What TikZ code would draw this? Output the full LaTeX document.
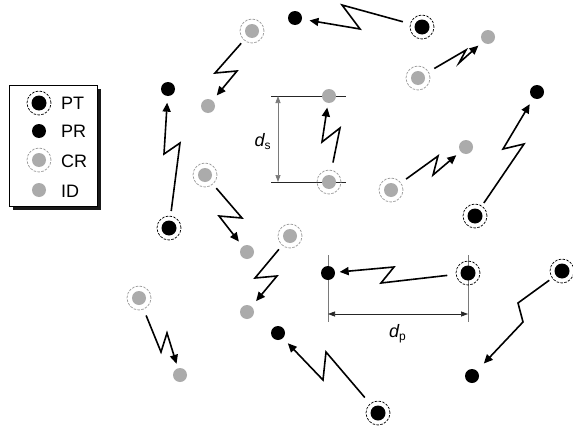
\documentclass[tikz,border=0pt]{standalone}
\usepackage{fontspec}
\setmainfont{Liberation Sans}
\usetikzlibrary{arrows.meta,calc,shadows,backgrounds}
\definecolor{idgray}{HTML}{ABABAB}
\definecolor{crgray}{HTML}{9A9A9A}
\definecolor{dimgray}{HTML}{7A7A7A}
\begin{document}
\begin{tikzpicture}[x=1pt,y=-1pt,
  dotpr/.style={circle, fill=black, minimum size=14pt, inner sep=0pt},
  dotid/.style={circle, fill=idgray, minimum size=14pt, inner sep=0pt},
  dotpt/.style={circle, draw=black, line width=0.7pt, dash pattern=on 2.6pt off 1.3pt, minimum size=24pt, inner sep=0pt,
    path picture={\fill[black] (path picture bounding box.center) circle (7.5pt);}},
  dotcr/.style={circle, draw=crgray, line width=0.7pt, dash pattern=on 2.6pt off 1.3pt, minimum size=24pt, inner sep=0pt,
    path picture={\fill[idgray] (path picture bounding box.center) circle (7pt);}},
  bolt/.style={line width=1.6pt, -{Triangle[length=9pt,width=8pt]}},
  extdark/.style={draw=black!85, line width=0.7pt},
  extgray/.style={draw=dimgray, line width=0.7pt},
  dimtips/.style={{Triangle[length=7pt,width=5pt]}-{Triangle[length=7pt,width=5pt]}},
  legtxt/.style={anchor=base west, inner sep=0pt, font=\fontsize{18}{20}\selectfont},
  lbl/.style={anchor=base west, inner sep=0pt, font=\fontsize{18}{20}\selectfont},
  legbox/.style={draw=black, line width=0.9pt, fill=white, minimum width=88pt, minimum height=121pt, inner sep=0pt,
    drop shadow={shadow xshift=3pt, shadow yshift=-3pt, fill=black!90, opacity=1}}
]
\useasboundingbox (0,0) rectangle (573,431);

% legend
\node[legbox] (legend) at (53.5,146) {};
\node[dotpt] (lpt) at (39,103) {};
\node[dotpr] (lpr) at (39,131) {};
\node[dotcr] (lcr) at (39,160) {};
\node[dotid] (lid) at (39,190) {};
\node[legtxt] (tpt) at (61,109) {PT};
\node[legtxt] (tpr) at (61,137.5) {PR};
\node[legtxt] (tcr) at (61,167) {CR};
\node[legtxt] (tid) at (61,197) {ID};

% nodes
\node[dotpt] (pt1) at (422,27) {};
\node[dotpr] (pr1) at (295,18) {};
\node[dotcr] (cr1) at (252,31) {};
\node[dotid] (id1) at (208,106) {};
\node[dotpr] (pr2) at (168,89) {};
\node[dotpt] (pt2) at (169,228) {};
\node[dotcr] (cr2) at (418,78) {};
\node[dotid] (id2) at (488,37) {};
\node[dotid] (id3) at (329,96) {};
\node[dotcr] (cr3) at (329,182) {};
\node[dotpr] (pr3) at (537,92) {};
\node[dotpt] (pt3) at (475,216) {};
\node[dotcr] (cr4) at (391,190) {};
\node[dotid] (id4) at (466,147) {};
\node[dotcr] (cr5) at (205,175) {};
\node[dotid] (id5) at (247,252) {};
\node[dotcr] (cr6) at (290,236) {};
\node[dotid] (id6) at (247,312) {};
\node[dotpr] (pr4) at (328,273) {};
\node[dotpt] (pt4) at (468,273) {};
\node[dotpt] (pt5) at (562,271) {};
\node[dotpr] (pr5) at (472,376) {};
\node[dotcr] (cr7) at (139,298) {};
\node[dotid] (id7) at (180,375) {};
\node[dotpr] (pr6) at (278,333) {};
\node[dotpt] (pt6) at (378,413) {};

% bolts
\draw[bolt, shorten <=7.5pt, shorten >=7.5pt] (pt1) -- (342,5) -- (360,29) -- (pr1);
\draw[bolt, shorten <=4pt, shorten >=6.5pt] (cr1) -- (215,73) -- (237,71) -- (id1);
\draw[bolt, shorten <=4.8pt, shorten >=6.5pt] (pt2) -- (180,143) -- (164,154) -- (pr2);
\draw[bolt, shorten <=6.5pt, shorten >=5.7pt] (cr2) -- (466,50) -- (459,63) -- (id2);
\draw[bolt, shorten <=7.5pt, shorten >=4.5pt] (cr3) -- (340,128) -- (322,142) -- (id3);
\draw[bolt, shorten <=3.4pt, shorten >=7pt] (pt3) -- (524,144) -- (503,149) -- (pr3);
\draw[bolt, shorten <=6.3pt, shorten >=5.5pt] (cr4) -- (438,156) -- (433,175) -- (id4);
\draw[bolt, shorten <=5pt, shorten >=6pt] (cr5) -- (242,218) -- (219,216) -- (id5);
\draw[bolt, shorten <=5pt, shorten >=7pt] (cr6) -- (255,278) -- (277,276) -- (id6);
\draw[bolt, shorten <=8.5pt, shorten >=4.5pt] (pt4) -- (381,283) -- (394,267) -- (pr4);
\draw[bolt, shorten <=3.4pt, shorten >=10pt] (pt5) -- (518,303) -- (523,322) -- (pr5);
\draw[bolt, shorten <=6.5pt, shorten >=4.5pt] (cr7) -- (161,352) -- (167,333) -- (id7);
\draw[bolt, shorten <=8pt, shorten >=7pt] (pt6) -- (326,352) -- (323,380) -- (pr6);

% dimensions
\begin{pgfonlayer}{background}
\fill[white] (0,0) rectangle (573,431);
\draw[extdark] ($(id3)+(-58,0)$) -- ($(id3)+(17,0)$);
\draw[extdark] ($(cr3)+(-58,0)$) -- ($(cr3)+(17,0)$);
\draw[extgray, dimtips] ($(id3)+(-51,0)$) -- ($(cr3)+(-51,0)$);
\draw[extgray] ($(pr4)+(0,-18)$) -- ($(pr4)+(0,49)$);
\draw[extgray] ($(pt4)+(0,-18)$) -- ($(pt4)+(0,49)$);
\draw[extdark, dimtips] ($(pr4)+(0,41)$) -- ($(pt4)+(0,41)$);
\end{pgfonlayer}
\node[lbl] (lds) at (254.5,146.5) {\itshape d\upshape\raisebox{-3pt}{\fontsize{12}{12}\selectfont s}};
\node[lbl] (ldp) at (389,337) {\itshape d\upshape\raisebox{-3pt}{\fontsize{12}{12}\selectfont p}};
\end{tikzpicture}
\end{document}
